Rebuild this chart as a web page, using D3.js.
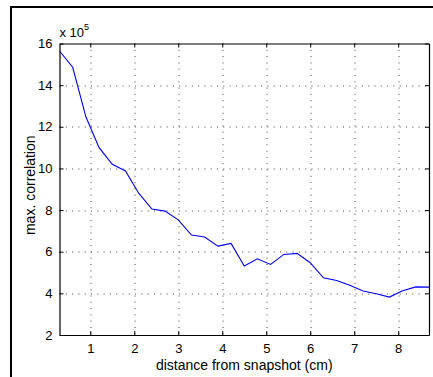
<!DOCTYPE html>
<html>
<head>
<meta charset="utf-8">
<script src="https://d3js.org/d3.v7.min.js"></script>
<style>
  body { margin: 0; background: #fff; }
  text { font-family: Arial, "Liberation Sans", Helvetica, sans-serif; fill: #000; }
</style>
</head>
<body>
<div id="chart"></div>
<script>
// distance from snapshot (cm)
var distances = [0.3, 0.6, 0.9, 1.2, 1.5, 1.8, 2.1, 2.4, 2.7, 3.0, 3.3, 3.6, 3.9, 4.2, 4.5,
  4.8, 5.1, 5.4, 5.7, 6.0, 6.3, 6.6, 6.9, 7.2, 7.5, 7.8, 8.1, 8.4, 8.7];
// max. correlation, in units of 10^5
var maxCorrelation = [15.64, 14.86, 12.48, 11.0, 10.2, 9.88, 8.81, 8.05, 7.95, 7.53, 6.8, 6.71, 6.27, 6.4, 5.31,
  5.66, 5.39, 5.87, 5.92, 5.47, 4.75, 4.62, 4.39, 4.11, 3.98, 3.82, 4.13, 4.31, 4.3];
var xTicks = [1, 2, 3, 4, 5, 6, 7, 8];
var yTicks = [2, 4, 6, 8, 10, 12, 14, 16];

var data = distances.map(function (d, i) {
  return { distance: d, value: maxCorrelation[i] };
});

// set the dimensions and margins of the graph
var W = 433, H = 377;
var margin = { top: 43.5, right: 4, bottom: 42, left: 59.5 },
  width = W - margin.left - margin.right,
  height = H - margin.top - margin.bottom;

var svg = d3
  .select("#chart")
  .append("svg")
  .attr("width", W)
  .attr("height", H);

// figure frame
svg
  .append("rect")
  .attr("x", 11)
  .attr("y", 7)
  .attr("width", W)
  .attr("height", H)
  .attr("fill", "none")
  .attr("stroke", "#000")
  .attr("stroke-width", 2);

var g = svg
  .append("g")
  .attr("transform", "translate(" + margin.left + "," + margin.top + ")");

var x = d3.scaleLinear().domain([0.3, 8.7]).range([0, width]);
var y = d3.scaleLinear().domain([2, 16]).range([height, 0]);

// dotted grid
g.append("g")
  .selectAll("line")
  .data(xTicks)
  .enter()
  .append("line")
  .attr("x1", function (d) { return Math.round(x(d)) + 0.5; })
  .attr("x2", function (d) { return Math.round(x(d)) + 0.5; })
  .attr("y1", 0)
  .attr("y2", height)
  .attr("stroke", "#444")
  .attr("stroke-width", 1)
  .attr("stroke-dasharray", "1,5.3");

g.append("g")
  .selectAll("line")
  .data(yTicks.slice(1, -1))
  .enter()
  .append("line")
  .attr("y1", function (d) { return Math.round(y(d)) + 0.5; })
  .attr("y2", function (d) { return Math.round(y(d)) + 0.5; })
  .attr("x1", 0)
  .attr("x2", width)
  .attr("stroke", "#444")
  .attr("stroke-width", 1)
  .attr("stroke-dasharray", "1,5.3");

// the line
var line = d3
  .line()
  .x(function (d) { return x(d.distance); })
  .y(function (d) { return y(d.value); });

g.append("path")
  .datum(data)
  .attr("fill", "none")
  .attr("stroke", "#0000ff")
  .attr("stroke-width", 1.1)
  .attr("d", line);

// axes, ticks pointing inward like matlab
function styleAxis(sel) {
  sel.selectAll("path").attr("stroke", "#000").attr("stroke-width", 1.2);
  sel.selectAll("line").attr("stroke", "#000");
  sel.selectAll("text").attr("font-size", "13px");
}

g.append("g")
  .attr("transform", "translate(0," + height + ")")
  .call(d3.axisBottom(x).tickValues(xTicks).tickSizeInner(-4).tickSizeOuter(0).tickPadding(9))
  .call(styleAxis);

g.append("g")
  .call(d3.axisLeft(y).tickValues(yTicks).tickSizeInner(-4).tickSizeOuter(0).tickPadding(7))
  .call(styleAxis);

g.append("g")
  .call(d3.axisTop(x).tickValues(xTicks).tickSizeInner(-4).tickSizeOuter(0).tickFormat(""))
  .call(styleAxis);

g.append("g")
  .attr("transform", "translate(" + width + ",0)")
  .call(d3.axisRight(y).tickValues(yTicks).tickSizeInner(-4).tickSizeOuter(0).tickFormat(""))
  .call(styleAxis);

// exponent label
var expo = g
  .append("text")
  .attr("x", 0)
  .attr("y", -7)
  .attr("font-size", "13px");
expo.append("tspan").text("x 10");
expo.append("tspan").attr("dy", -7).attr("font-size", "9px").text("5");

// X axis label
g.append("text")
  .attr("text-anchor", "middle")
  .attr("x", width / 2)
  .attr("y", height + 35)
  .attr("font-size", "14px")
  .text("distance from snapshot (cm)");

// Y axis label
g.append("text")
  .attr("text-anchor", "middle")
  .attr("transform", "rotate(-90)")
  .attr("x", -height / 2 + 4)
  .attr("y", -25)
  .attr("font-size", "14px")
  .text("max. correlation");
</script>
</body>
</html>
